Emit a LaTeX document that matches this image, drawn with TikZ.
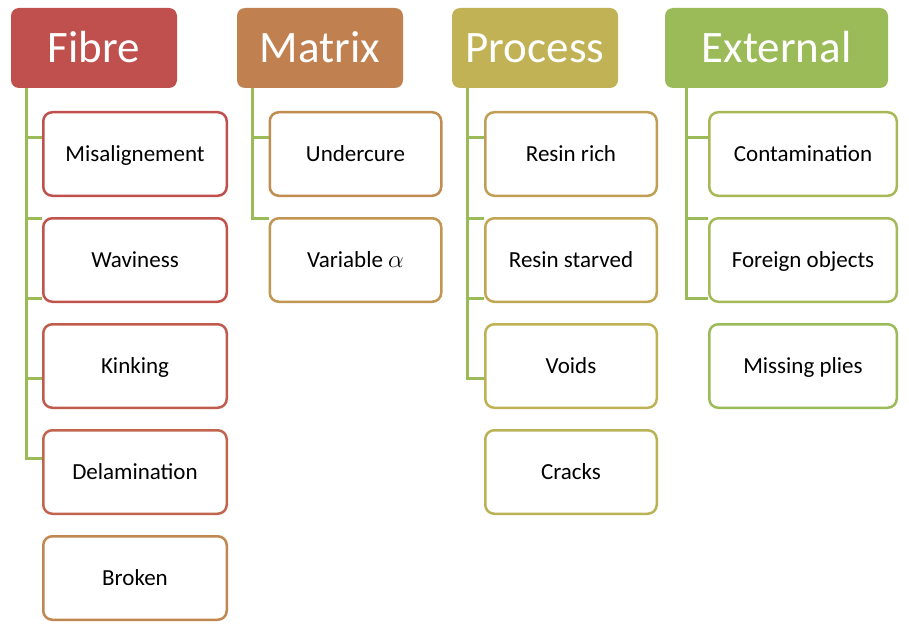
\documentclass[tikz,border=0pt]{standalone}
\usepackage{fontspec}
\setmainfont{Carlito}
\usetikzlibrary{positioning}

\definecolor{fibrehead}{HTML}{C0504D}
\definecolor{matrixhead}{HTML}{C0804F}
\definecolor{processhead}{HTML}{C0B255}
\definecolor{externalhead}{HTML}{9BBB59}
\definecolor{linkgreen}{HTML}{9BBB59}

\begin{document}
\begin{tikzpicture}[
    x=1pt, y=-1pt,
    node distance=20pt,
    head/.style={rounded corners=8pt, text=white, inner sep=0pt,
        minimum height=80pt, text height=29pt, text depth=0pt,
        font=\fontsize{45}{50}\selectfont},
    item/.style={draw, line width=2.5pt, rounded corners=9pt, inner sep=0pt,
        minimum height=83.5pt, text height=14.5pt, text depth=0pt,
        font=\fontsize{23}{27}\selectfont},
    link/.style={draw=linkgreen, line width=3pt}
]
\useasboundingbox (0,0) rectangle (909,631);

% Categories
\node[head, fill=fibrehead, minimum width=166pt] (fibre) at (94,48) {Fibre};
\node[head, fill=matrixhead, minimum width=166pt] (matrix) at (320,48) {Matrix};
\node[head, fill=processhead, minimum width=166pt] (process) at (535,48) {Process};
\node[head, fill=externalhead, minimum width=223pt] (external) at (776.5,48) {External};

% Fibre defects
\node[item, draw=fibrehead, minimum width=183.5pt] (fmis) at (135,154) {Misalignement};
\node[item, draw=fibrehead!92!matrixhead, minimum width=183.5pt, below=of fmis] (fwav) {Waviness};
\node[item, draw=fibrehead!75!matrixhead, minimum width=183.5pt, below=of fwav] (fkin) {Kinking};
\node[item, draw=fibrehead!55!matrixhead, minimum width=183.5pt, below=of fkin] (fdel) {Delamination};
\node[item, draw=matrixhead!85!processhead, minimum width=183.5pt, below=of fdel] (fbro) {Broken};

% Matrix defects
\node[item, draw=matrixhead!75!processhead, minimum width=171.5pt] (mund) at (355.5,154) {Undercure};
\node[item, draw=matrixhead!55!processhead, minimum width=171.5pt, below=of mund] (mvar) {Variable $\alpha$};

% Process defects
\node[item, draw=matrixhead!40!processhead, minimum width=171.5pt] (prich) at (571,154) {Resin rich};
\node[item, draw=matrixhead!25!processhead, minimum width=171.5pt, below=of prich] (pstar) {Resin starved};
\node[item, draw=processhead!95!externalhead, minimum width=171.5pt, below=of pstar] (pvoid) {Voids};
\node[item, draw=processhead!85!externalhead, minimum width=171.5pt, below=of pvoid] (pcrack) {Cracks};

% External defects
\node[item, draw=processhead!40!externalhead, minimum width=187.5pt] (econ) at (803,154) {Contamination};
\node[item, draw=processhead!25!externalhead, minimum width=187.5pt, below=of econ] (efor) {Foreign objects};
\node[item, draw=externalhead, minimum width=187.5pt, below=of efor] (emis) {Missing plies};

% Links
\coordinate (fibrestem) at (26,88);
\coordinate (matrixstem) at (252,88);
\coordinate (processstem) at (467,88);
\coordinate (externalstem) at (686,88);

\draw[link] (fibrestem) |- (fdel.west |- 0,458);
\foreach \y/\n in {138/fmis, 218/fwav, 298/fwav, 378/fkin}
    \draw[link] (fibrestem |- 0,\y) -- (\n.west |- 0,\y);

\draw[link] (matrixstem) |- (mvar.west |- 0,218);
\draw[link] (matrixstem |- 0,138) -- (mund.west |- 0,138);

\draw[link] (processstem) |- (pvoid.west |- 0,378);
\foreach \y/\n in {138/prich, 218/pstar, 298/pstar}
    \draw[link] (processstem |- 0,\y) -- (\n.west |- 0,\y);

\draw[link] (externalstem) |- (efor.west |- 0,298);
\foreach \y/\n in {138/econ, 218/efor}
    \draw[link] (externalstem |- 0,\y) -- (\n.west |- 0,\y);

\end{tikzpicture}
\end{document}
